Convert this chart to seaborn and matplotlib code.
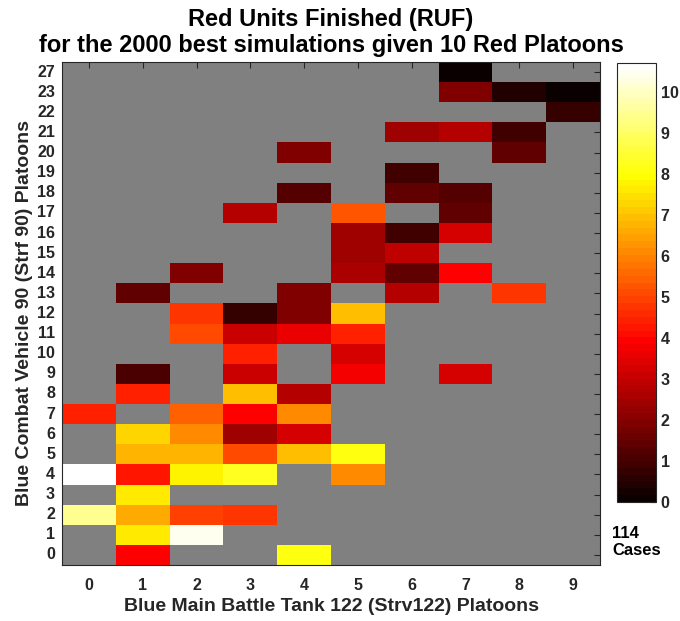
import numpy as np
import pandas as pd
import matplotlib
matplotlib.use("Agg")
import matplotlib.pyplot as plt
from matplotlib.colors import ListedColormap
import seaborn as sns

sns.set_style("white")
plt.rcParams['font.family'] = ['Liberation Sans', 'DejaVu Sans']
plt.rcParams['font.weight'] = 'bold'

x_labels = ['0', '1', '2', '3', '4', '5', '6', '7', '8', '9']
y_labels = ['27', '23', '22', '21', '20', '19', '18', '17', '16', '15', '14', '13',
            '12', '11', '10', '9', '8', '7', '6', '5', '4', '3', '2', '1', '0']
n = np.nan
ruf_values = [
    [n, n, n, n, n, n, n, 0.16, n, n],        # 27
    [n, n, n, n, n, n, n, 1.9, 0.47, 0.16],   # 23
    [n, n, n, n, n, n, n, n, n, 0.75],        # 22
    [n, n, n, n, n, n, 2.5, 2.8, 0.94, n],    # 21
    [n, n, n, n, 2.0, n, n, n, 1.5, n],       # 20
    [n, n, n, n, n, n, 0.94, n, n, n],        # 19
    [n, n, n, n, 1.33, n, 1.4, 1.25, n, n],   # 18
    [n, n, n, 2.8, n, 5.2, n, 1.4, n, n],     # 17
    [n, n, n, n, n, 2.4, 0.94, 3.3, n, n],    # 16
    [n, n, n, n, n, 2.5, 3.0, n, n, n],       # 15
    [n, n, 2.0, n, n, 2.67, 1.4, 4.0, n, n],  # 14
    [n, 1.4, n, n, 2.0, n, 2.75, n, 4.7, n],  # 13
    [n, n, 4.75, 0.75, 2.0, 6.9, n, n, n, n], # 12
    [n, n, 5.1, 3.1, 3.6, 4.4, n, n, n, n],   # 11
    [n, n, n, 4.5, n, 3.3, n, n, n, n],       # 10
    [n, 1.16, n, 3.1, n, 3.8, n, 3.3, n, n],  # 9
    [n, 4.4, n, 6.9, 2.75, n, n, n, n, n],    # 8
    [4.5, n, 5.5, 4.0, 6.1, n, n, n, n, n],   # 7
    [n, 7.3, 6.1, 2.5, 3.25, n, n, n, n, n],  # 6
    [n, 6.76, 6.76, 5.07, 6.9, 8.1, n, n, n, n],  # 5
    [10.7, 4.25, 7.76, 8.2, n, 6.1, n, n, n, n],  # 4
    [n, 7.58, n, n, n, n, n, n, n, n],        # 3
    [9.4, 6.6, 5.0, 4.75, n, n, n, n, n, n],  # 2
    [n, 7.6, 10.4, n, n, n, n, n, n, n],      # 1
    [n, 4.0, n, n, 8.1, n, n, n, n, n],       # 0
]
cbar_ticks = [0, 1, 2, 3, 4, 5, 6, 7, 8, 9, 10]
vmax = 10.7
n_cases = 114

df = pd.DataFrame(ruf_values, index=y_labels, columns=x_labels)

# MATLAB-style 'hot' colormap with 64 entries
N = 64
n1 = int(3 * N / 8)
r = np.concatenate([np.arange(1, n1 + 1) / n1, np.ones(N - n1)])
g = np.concatenate([np.zeros(n1), np.arange(1, n1 + 1) / n1, np.ones(N - 2 * n1)])
b = np.concatenate([np.zeros(2 * n1), np.arange(1, N - 2 * n1 + 1) / (N - 2 * n1)])
cmap = ListedColormap(np.column_stack([r, g, b]))

fig = plt.figure(figsize=(6.8, 6.21), dpi=100)
ax = fig.add_axes([62 / 680, 1 - 565 / 621, 538 / 680, 503 / 621])
cax = fig.add_axes([617 / 680, 1 - 502 / 621, 39 / 680, 439 / 621])
ax.set_facecolor('#808080')

sns.heatmap(df, cmap=cmap, vmin=0, vmax=vmax, ax=ax, cbar_ax=cax,
            cbar_kws={'ticks': cbar_ticks})

for s in ax.spines.values():
    s.set_visible(True)
    s.set_color('#262626')
    s.set_linewidth(0.8)

ax.tick_params(axis='both', direction='in', length=4, width=0.8, color='#262626',
               top=True, right=True, labelsize=11.5, labelcolor='#262626')
ax.set_xticklabels(x_labels, rotation=0, fontweight='bold')
ax.set_yticklabels(y_labels, rotation=0, fontweight='bold')
ax.tick_params(axis='x', pad=9)
ax.tick_params(axis='y', pad=5)

ax.set_xlabel('Blue Main Battle Tank 122 (Strv122) Platoons', fontsize=14,
              fontweight='bold', color='#262626', labelpad=4)
ax.set_ylabel('Blue Combat Vehicle 90 (Strf 90) Platoons', fontsize=14,
              fontweight='bold', color='#262626', labelpad=3)
ax.set_title('Red Units Finished (RUF)\nfor the 2000 best simulations given 10 Red Platoons',
             fontsize=17, fontweight='bold', color='black', pad=7, linespacing=1.2)

cax.tick_params(direction='in', length=4, width=0.8, labelsize=11.5,
                labelcolor='#262626', color='#262626')
for lbl in cax.get_yticklabels():
    lbl.set_fontweight('bold')
cb = ax.collections[0].colorbar
cb.outline.set_visible(True)
cb.outline.set_edgecolor('#262626')
cb.outline.set_linewidth(0.8)

fig.text(612 / 680, 1 - 526 / 621, f'{n_cases}\nCases', ha='left', va='top',
         fontsize=12, fontweight='bold', color='black', linespacing=1.15)

fig.savefig('out.png', dpi=100)
